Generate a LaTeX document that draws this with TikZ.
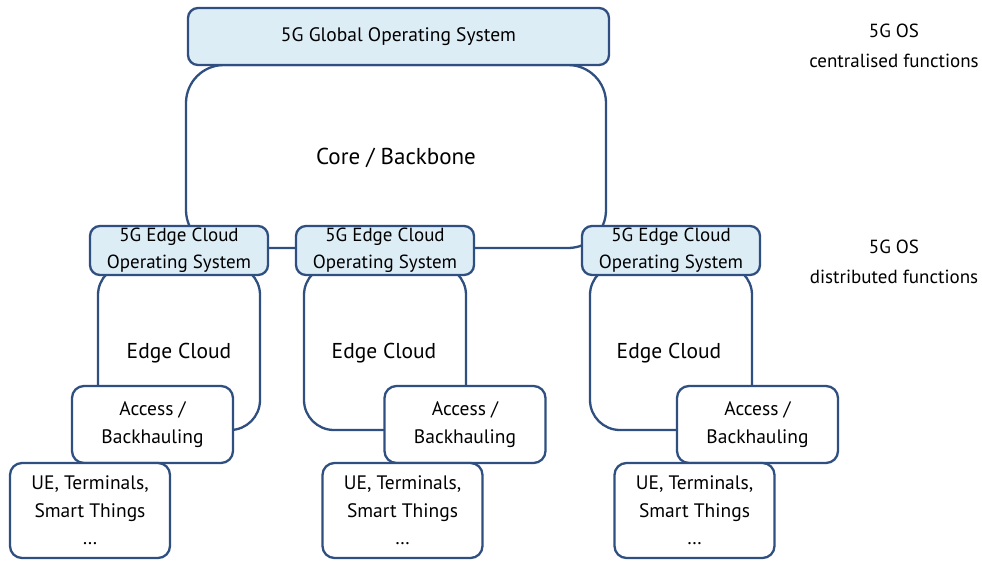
\documentclass[tikz,border=0pt]{standalone}
\usepackage{fontspec}
\setmainfont{PT Sans}
\usetikzlibrary{positioning}
\definecolor{osline}{HTML}{2E4F80}
\definecolor{osfill}{HTML}{DDEDF6}
\tikzset{
  base/.style = {draw=osline, line width=2.3pt, rectangle, inner sep=0pt, align=center},
  osbox/.style = {base, fill=osfill, rounded corners=10pt},
  bigarea/.style = {base, fill=white, rounded corners=38pt},
  cloudarea/.style = {base, fill=white, rounded corners=30pt},
  plainbox/.style = {base, fill=white, rounded corners=12pt, font=\fontsize{19.5}{27.5}\selectfont},
  arealabel/.style = {font=\fontsize{21.5}{25}\selectfont},
  sidelabel/.style = {align=center, font=\fontsize{19}{30}\selectfont}
}
\begin{document}
\begin{tikzpicture}[x=1pt, y=-1pt]
  \useasboundingbox (0,0) rectangle (982,563);
  % core network
  \node[bigarea, minimum width=420pt, minimum height=183pt] (core) at (396,156.5) {};
  \node at (396,158) [arealabel, font=\fontsize{23}{27}\selectfont] (corelbl) {Core / Backbone};
  \node[osbox, minimum width=421pt, minimum height=57pt, font=\fontsize{19.5}{24}\selectfont] (gos) at (398.5,36.5) {5G Global Operating System};
  % edge clouds
  \foreach \n/\x in {1/179, 2/385, 3/671} {
    \node[cloudarea, minimum width=162pt, minimum height=165pt] (cloud\n) at (\x,347.5) {};
  }
  \node at (179,353) [arealabel] (cl1) {Edge Cloud};
  \node at (384,353) [arealabel] (cl2) {Edge Cloud};
  \node at (669,353) [arealabel] (cl3) {Edge Cloud};
  % edge OS boxes
  \foreach \n/\x in {1/179, 2/385, 3/671} {
    \node[osbox, minimum width=178pt, minimum height=49pt, font=\fontsize{19}{27}\selectfont] (eos\n) at (\x,250.5) {5G Edge Cloud\\Operating System};
  }
  % access / backhauling
  \foreach \n/\x in {1/152.5, 2/465, 3/757.5} {
    \node[plainbox, minimum width=161pt, minimum height=77pt] (acc\n) at (\x,424.5) {Access /\\Backhauling};
  }
  % terminals
  \foreach \n/\x in {1/90, 2/402.5, 3/694.5} {
    \node[plainbox, minimum width=160pt, minimum height=95pt] (ue\n) at (\x,510.5) {UE, Terminals,\\Smart Things\\\dots};
  }
  % side labels
  \node[sidelabel] (central) at (894,46) {5G OS\\centralised functions};
  \node[sidelabel] (distrib) at (894,262) {5G OS\\distributed functions};
\end{tikzpicture}
\end{document}
